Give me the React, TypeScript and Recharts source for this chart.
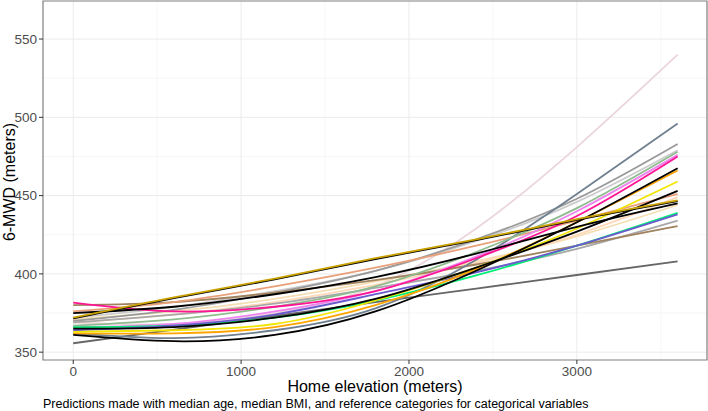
import { CartesianGrid, Label, Line, LineChart, ReferenceArea, XAxis, YAxis } from "recharts"

const elevation = [0, 600, 1200, 1800, 2400, 3000, 3600]

const faintPink = [369, 368, 375, 392, 429, 481, 540]
const slate = [362, 359, 364, 378, 409, 451, 496]
const gray = [370, 377, 388, 402, 422, 448, 483]
const silver = [372, 379, 389, 402, 421, 446, 479]
const seaGreen = [367, 371, 379, 392, 414, 442, 478]
const violet = [366, 368, 376, 389, 411, 440, 476]
const deepPink = [381.7, 376, 379, 389, 410, 437, 475]
const blackB = [365, 366, 372, 384, 404, 427, 453]
const blackC = [361, 357, 361, 376, 402, 433, 467.5]
const orange = [362, 362, 366, 380, 403, 433, 466]
const yellow = [363, 364, 368, 383, 404, 429, 459]
const salmon = [376, 382, 392, 404, 418, 434, 451]
const blackTop = [371.5, 384.5, 396.5, 409.5, 421.5, 434.5, 446.5]
const goldenrod = [372, 385, 397, 410, 422, 435, 447]
const blackA = [375, 379, 387, 398, 413, 430, 445]
const wheat = [371, 376, 384, 395, 408, 424, 444]
const peach = [369, 374, 382, 393, 407, 425, 449]
const springGreen = [366, 367, 372, 383, 399, 418, 439]
const slateBlue = [364, 367, 374, 387, 401, 418, 438]
const gray2 = [369, 374, 381, 391, 402, 416, 434]
const tan = [380, 382, 388, 396, 406, 418, 430.5]
const dimGray = [355.7, 364.4, 373.1, 381.9, 390.6, 399.3, 408]

const xTicks = [0, 1000, 2000, 3000]
const yTicks = [350, 400, 450, 500, 550]
const xMinor = [500, 1500, 2500, 3500]
const yMinor = [375, 425, 475, 525]

const series = [
  { key: "faintPink", values: faintPink, color: "#ebd5dc" },
  { key: "wheat", values: wheat, color: "#f5deb3" },
  { key: "peach", values: peach, color: "#ffd8b8" },
  { key: "silver", values: silver, color: "#cccccc" },
  { key: "gray2", values: gray2, color: "#a8a8a8" },
  { key: "gray", values: gray, color: "#9a9a9a" },
  { key: "tan", values: tan, color: "#a0825f" },
  { key: "salmon", values: salmon, color: "#e9a07a" },
  { key: "dimGray", values: dimGray, color: "#666666" },
  { key: "slate", values: slate, color: "#708090" },
  { key: "seaGreen", values: seaGreen, color: "#8fbc8f" },
  { key: "violet", values: violet, color: "#ee82ee" },
  { key: "springGreen", values: springGreen, color: "#00ee76" },
  { key: "slateBlue", values: slateBlue, color: "#6a5acd" },
  { key: "orange", values: orange, color: "#ffa500" },
  { key: "yellow", values: yellow, color: "#f2e600" },
  { key: "deepPink", values: deepPink, color: "#ff1493" },
  { key: "blackA", values: blackA, color: "#000000" },
  { key: "blackB", values: blackB, color: "#000000" },
  { key: "blackC", values: blackC, color: "#000000" },
  { key: "blackTop", values: blackTop, color: "#000000" },
  { key: "goldenrod", values: goldenrod, color: "#c9a200" },
]

const data = elevation.map((e, i) => {
  const row: Record<string, number> = { elevation: e }
  series.forEach((s) => {
    row[s.key] = s.values[i]
  })
  return row
})

const font = "'Liberation Sans', Arial, sans-serif"

export default function App() {
  return (
    <div style={{ position: "absolute", left: 0, top: 0, width: 708, height: 411, background: "#fff" }}>
      <LineChart width={708} height={411} data={data} margin={{ top: 1, right: 1, bottom: 0, left: 0 }}>
        <CartesianGrid horizontalValues={yMinor} verticalValues={xMinor} stroke="#f4f4f4" strokeWidth={0.8} />
        <CartesianGrid horizontalValues={yTicks} verticalValues={xTicks} stroke="#ebebeb" strokeWidth={1} />
        <XAxis
          dataKey="elevation"
          type="number"
          domain={[-180, 3775]}
          ticks={xTicks}
          allowDataOverflow
          height={51}
          axisLine={false}
          tickSize={4}
          tickLine={{ stroke: "#333" }}
          tick={{ fill: "#4d4d4d", fontSize: 13.5, fontFamily: font }}
        >
          <Label
            value="Home elevation (meters)"
            position="insideBottom"
            offset={19}
            style={{ fill: "#000", fontSize: 16, fontFamily: font }}
          />
          <Label
            content={() => (
              <text x={43} y={408} fill="#000" fontSize={12.5} fontFamily={font}>
                Predictions made with median age, median BMI, and reference categories for categorical variables
              </text>
            )}
          />
        </XAxis>
        <YAxis
          type="number"
          domain={[345, 574.3]}
          ticks={yTicks}
          allowDataOverflow
          width={43}
          axisLine={false}
          tickSize={4}
          tickLine={{ stroke: "#333" }}
          tick={{ fill: "#4d4d4d", fontSize: 13.5, fontFamily: font }}
        >
          <Label
            content={() => (
              <text
                x={15}
                y={182}
                transform="rotate(-90 15 182)"
                textAnchor="middle"
                fill="#000"
                fontSize={16}
                fontFamily={font}
              >
                6-MWD (meters)
              </text>
            )}
          />
        </YAxis>
        {series.map((s) => (
          <Line
            key={s.key}
            dataKey={s.key}
            type="natural"
            stroke={s.color}
            strokeWidth={1.8}
            dot={false}
            activeDot={false}
            isAnimationActive={false}
          />
        ))}
        <ReferenceArea x1={-180} x2={3775} y1={345} y2={574.3} fill="none" stroke="#7f7f7f" strokeWidth={1.2} ifOverflow="visible" />
      </LineChart>
    </div>
  )
}
